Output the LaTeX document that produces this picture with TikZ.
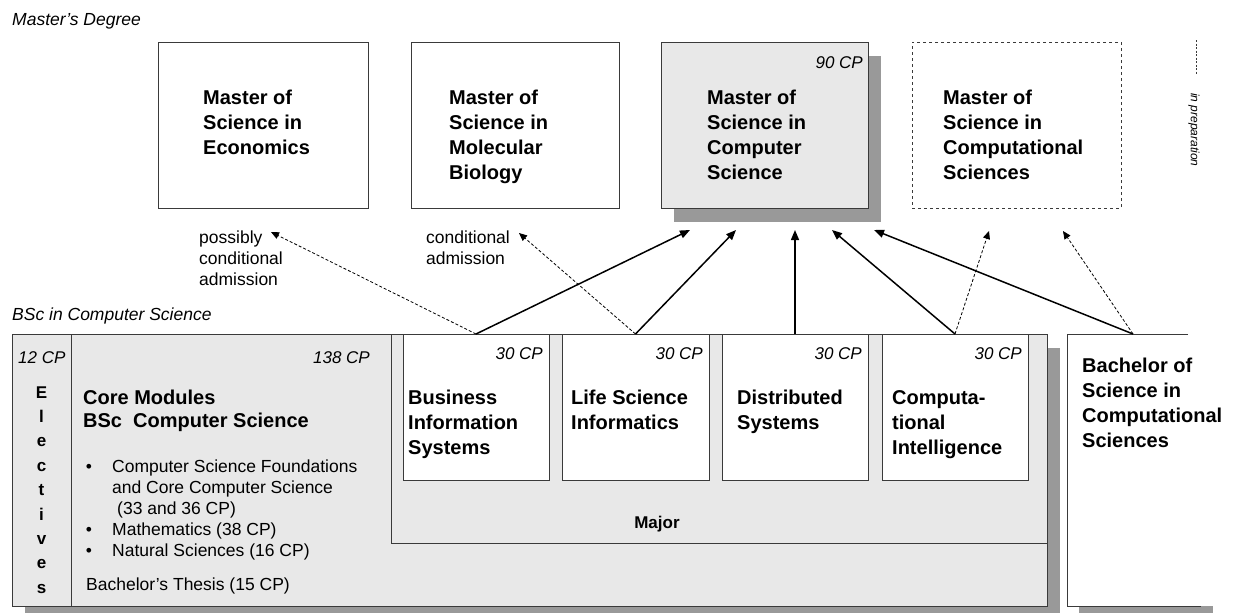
\documentclass[tikz,border=0pt]{standalone}
\usepackage{fontspec}
\setmainfont{Liberation Sans}
\usetikzlibrary{arrows.meta}
\definecolor{boxgray}{HTML}{E8E8E8}
\definecolor{shadowgray}{HTML}{999999}
\definecolor{edgegray}{HTML}{3A3A3A}
\begin{document}
\begin{tikzpicture}[x=1pt,y=-1pt,
  frame/.style={draw=edgegray, line width=1pt, inner sep=0pt, outer sep=0pt, anchor=north west},
  shadowbox/.style={fill=shadowgray, draw=none, inner sep=0pt, outer sep=0pt, anchor=north west},
  title/.style={font=\fontsize{20}{25}\selectfont\bfseries, align=left, anchor=base west, inner sep=0pt},
  note/.style={font=\fontsize{17.5}{21.2}\selectfont, align=left, anchor=base west, inner sep=0pt},
  heading/.style={font=\fontsize{17.5}{21}\selectfont\itshape, anchor=base west, inner sep=0pt},
  cp/.style={font=\fontsize{17}{20}\selectfont\itshape, anchor=base east, inner sep=0pt},
  solidarrow/.style={line width=1.5pt, -{Triangle[length=10pt,width=8pt]}},
  dasharrow/.style={line width=0.8pt, dash pattern=on 3pt off 2pt, -{Triangle[length=8pt,width=7pt]}},
]
\useasboundingbox (0,0) rectangle (1235,613);
\clip (0,0) rectangle (1235,613);

% ---------- headings ----------
\node[heading] (hmaster) at (12,25) {Master’s Degree};
\node[heading] (hbsc) at (12,320) {BSc in Computer Science};

% ---------- master boxes ----------
\node[frame, fill=white, minimum width=210, minimum height=166] (econ) at (158,42) {};
\node[frame, fill=white, minimum width=208, minimum height=166] (molbio) at (411,42) {};
\node[shadowbox, minimum width=207, minimum height=166] (csshadow) at (674,56) {};
\node[frame, fill=boxgray, minimum width=207, minimum height=166] (csm) at (661,42) {};
\node[frame, fill=white, dashed, minimum width=209, minimum height=166] (compm) at (912,42) {};

% (base anchor = baseline of the last line)
\node[title] (econT) at (203,154) {Master of\\Science in\\Economics};
\node[title] (molT) at (449,179) {Master of\\Science in\\Molecular\\Biology};
\node[title] (csT) at (707,179) {Master of\\Science in\\Computer\\Science};
\node[title] (compT) at (943,179) {Master of\\Science in\\Computational\\Sciences};
\node[cp] (cs90) at (863,68) {90 CP};

% legend
\coordinate (legA) at (1196,40);
\coordinate (legB) at (1196,75);
\draw[edgegray, line width=0.8pt, dash pattern=on 2pt off 1.5pt] (legA) -- (legB);
\node[font=\fontsize{12}{14}\selectfont\itshape, rotate=-90, inner sep=0pt] (prep) at (1194,130) {in preparation};

% admission notes
\node[note] (possibly) at (199,285.4) {possibly\\conditional\\admission};
\node[note] (condadm) at (426,264.2) {conditional\\admission};

% ---------- bottom: core ----------
\node[shadowbox, minimum width=1035, minimum height=272] (coreshadow) at (25,348) {};
\node[frame, fill=boxgray, minimum width=1035, minimum height=272] (core) at (12,334) {};
\draw[edgegray, line width=1pt] (71,334) -- (71,606);
\node[frame, fill=boxgray, minimum width=656, minimum height=209] (major) at (391,334) {};

\node[font=\fontsize{17}{20}\selectfont\itshape, anchor=base west, inner sep=0pt] (cp12) at (18,363) {12 CP};
\node[cp] (cp138) at (370,363) {138 CP};
\foreach \ch [count=\i from 0] in {E,l,e,c,t,i,v,e,s}
  \node[font=\fontsize{17}{20}\selectfont\bfseries, anchor=base, inner sep=0pt] (el\i) at (41.5,398+24.4*\i) {\ch};

\node[title, font=\fontsize{20}{23}\selectfont\bfseries] (coreT) at (83,427) {Core Modules\\BSc~ Computer Science};
\node[note] (corelist) at (112,556.8) {Computer Science Foundations\\and Core Computer Science\\\hspace{5pt}(33 and 36 CP)\\Mathematics (38 CP)\\Natural Sciences (16 CP)};
\node[note, anchor=base] (b1) at (89,472) {•};
\node[note, anchor=base] (b2) at (89,535.6) {•};
\node[note, anchor=base] (b3) at (89,556.8) {•};
\node[note] (thesis) at (86,590) {Bachelor’s Thesis (15 CP)};

% majors
\node[frame, fill=white, minimum width=146, minimum height=146] (bis) at (403,334) {};
\node[frame, fill=white, minimum width=147, minimum height=146] (lsi) at (562,334) {};
\node[frame, fill=white, minimum width=146, minimum height=146] (ds) at (722,334) {};
\node[frame, fill=white, minimum width=146, minimum height=146] (ci) at (882,334) {};
\node[cp] (cpbis) at (543,359) {30 CP};
\node[cp] (cplsi) at (703,359) {30 CP};
\node[cp] (cpds) at (862,359) {30 CP};
\node[cp] (cpci) at (1022,359) {30 CP};
\node[title] (bisT) at (408,454) {Business\\Information\\Systems};
\node[title] (lsiT) at (571,429) {Life Science\\Informatics};
\node[title] (dsT) at (737,429) {Distributed\\Systems};
\node[title] (ciT) at (892,454) {Computa-\\tional\\Intelligence};
\node[font=\fontsize{17}{20}\selectfont\bfseries, inner sep=0pt] (majorT) at (657,524) {Major};

% right box: BSc Computational Sciences
\fill[shadowgray] (1079,606) rectangle (1213,620);
\fill[white] (1067,334) rectangle (1235,606);
\node[anchor=north west, inner sep=0pt, outer sep=0pt, minimum width=121, minimum height=272] (bsc) at (1067,334) {};
\draw[edgegray, line width=1pt] (bsc.north east) -- (bsc.north west) -- (bsc.south west) -- ++(134,0);
\node[title] (bscT) at (1082,447) {Bachelor of\\Science in\\Computational\\Sciences};

% ---------- connectors ----------
\coordinate (bscTop) at (1133,334);
\coordinate (tEcon) at (271,232);
\coordinate (tMol) at (519,233);
\coordinate (tCS1) at (690,230);
\coordinate (tCS2) at (736,230);
\coordinate (tCS3) at (795,230);
\coordinate (tCS4) at (832,230);
\coordinate (tCS5) at (874,230);
\coordinate (tComp1) at (989,231);
\coordinate (tComp2) at (1063,231);

\draw[dasharrow] (bis.north) -- (tEcon);
\draw[solidarrow] (bis.north) -- (tCS1);
\draw[dasharrow] (lsi.north) -- (tMol);
\draw[solidarrow] (lsi.north) -- (tCS2);
\draw[solidarrow] (ds.north) -- (tCS3);
\draw[solidarrow] (ci.north) -- (tCS4);
\draw[dasharrow] (ci.north) -- (tComp1);
\draw[solidarrow] (bscTop) -- (tCS5);
\draw[dasharrow] (bscTop) -- (tComp2);
\end{tikzpicture}
\end{document}
